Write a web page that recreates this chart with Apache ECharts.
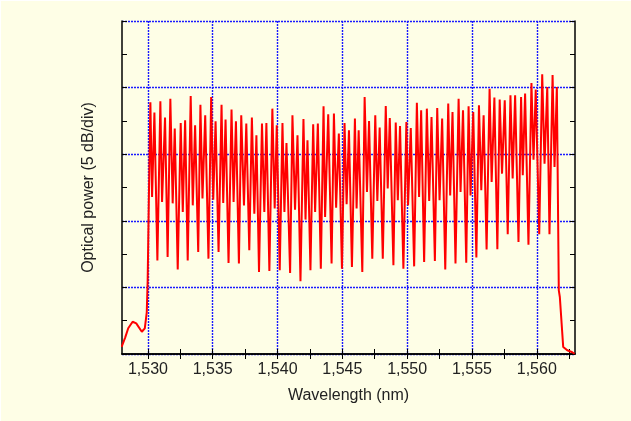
<!DOCTYPE html>
<html lang="en">
<head>
<meta charset="UTF-8">
<title>Optical spectrum</title>
<script src="https://cdn.jsdelivr.net/npm/echarts@6/dist/echarts.min.js"></script>
<style>
    body { margin: 0; background: #fff; }
    #chart { position: absolute; left: 1px; top: 1px; width: 630px; height: 420px; }
</style>
</head>
<body>
<div id="chart"></div>
<script>
// trace vertices: wavelength (nm)
var wavelength = [
    1527.97, 1528.25, 1528.48, 1528.82, 1529.10, 1529.53, 1529.76, 1529.91, 1529.98, 1530.07,
    1530.19, 1530.32, 1530.50, 1530.73, 1530.96, 1531.09, 1531.32, 1531.52,
    1531.73, 1531.91, 1532.07, 1532.30, 1532.53, 1532.69, 1532.87, 1533.07,
    1533.30, 1533.46, 1533.64, 1533.88, 1534.05, 1534.21, 1534.42, 1534.67,
    1534.88, 1535.04, 1535.22, 1535.45, 1535.68, 1535.81, 1535.99, 1536.22,
    1536.45, 1536.61, 1536.79, 1537.02, 1537.20, 1537.41, 1537.59, 1537.82,
    1538.02, 1538.21, 1538.37, 1538.57, 1538.80, 1538.98, 1539.14, 1539.37,
    1539.60, 1539.78, 1539.94, 1540.17, 1540.38, 1540.53, 1540.69, 1540.97,
    1541.15, 1541.35, 1541.54, 1541.77, 1542.00, 1542.16, 1542.31, 1542.54,
    1542.75, 1542.90, 1543.11, 1543.34, 1543.55, 1543.67, 1543.91, 1544.17,
    1544.35, 1544.52, 1544.73, 1544.97, 1545.17, 1545.33, 1545.51, 1545.74,
    1545.97, 1546.10, 1546.26, 1546.54, 1546.72, 1546.90, 1547.06, 1547.31,
    1547.54, 1547.70, 1547.88, 1548.12, 1548.35, 1548.50, 1548.66, 1548.94,
    1549.12, 1549.28, 1549.45, 1549.71, 1549.94, 1550.07, 1550.28, 1550.54,
    1550.75, 1550.92, 1551.08, 1551.31, 1551.52, 1551.70, 1551.88, 1552.14,
    1552.32, 1552.50, 1552.70, 1552.94, 1553.17, 1553.32, 1553.50, 1553.73,
    1553.97, 1554.12, 1554.31, 1554.56, 1554.74, 1554.89, 1555.10, 1555.34,
    1555.54, 1555.72, 1555.90, 1556.13, 1556.36, 1556.52, 1556.73, 1556.96,
    1557.14, 1557.32, 1557.53, 1557.76, 1557.97, 1558.14, 1558.33, 1558.59,
    1558.79, 1558.92, 1559.10, 1559.36, 1559.59, 1559.75, 1559.92, 1560.19,
    1560.42, 1560.60, 1560.81, 1560.98, 1561.22, 1561.37, 1561.55,
    1561.70, 1561.78, 1561.84, 1562.04, 1562.35, 1562.74, 1562.92
];
// trace vertices: power in dB above the bottom of the frame
var power = [
    0.53, 1.25, 1.93, 2.42, 2.30, 1.67, 1.93, 3.13, 5.50, 11.50,
    18.90, 11.79, 18.12, 7.03, 18.97, 11.41, 17.75, 7.28,
    19.17, 11.31, 16.92, 6.34, 17.34, 10.66, 17.55, 7.03,
    19.37, 11.16, 17.17, 7.66, 18.72, 11.67, 17.92, 7.16,
    19.29, 11.59, 17.47, 7.66, 18.72, 11.34, 17.60, 6.83,
    18.35, 11.41, 17.47, 6.79, 17.92, 11.16, 17.30, 7.79,
    17.75, 10.54, 16.42, 6.16, 17.30, 10.66, 17.34, 6.23,
    18.42, 10.92, 17.17, 6.28, 17.34, 10.66, 15.84, 6.08,
    17.92, 10.84, 16.42, 5.46, 17.64, 10.09, 16.04, 6.28,
    17.24, 10.66, 17.30, 6.41, 18.60, 10.29, 18.00, 6.79,
    18.05, 10.99, 16.55, 6.41, 17.34, 11.24, 16.79, 6.53,
    17.67, 10.92, 16.79, 6.16, 19.29, 12.16, 17.49, 7.16,
    17.92, 11.49, 17.00, 7.16, 18.62, 12.42, 17.72, 6.66,
    17.37, 11.54, 17.12, 6.41, 17.42, 11.16, 16.97, 6.58,
    18.87, 11.79, 18.30, 6.91, 18.42, 11.49, 17.79, 6.98,
    18.47, 11.54, 17.67, 6.34, 18.80, 11.91, 18.17, 6.79,
    19.17, 12.16, 18.30, 6.86, 18.60, 11.91, 18.17, 7.24,
    18.67, 12.29, 17.92, 7.84, 19.92, 12.91, 19.25, 7.86,
    19.10, 13.54, 19.05, 8.99, 19.42, 13.17, 19.42, 8.41,
    19.29, 13.42, 19.55, 8.21, 20.35, 14.59, 19.85, 8.99,
    21.00, 14.29, 20.05, 8.99, 20.95, 14.04, 20.05,
    4.78, 4.28, 4.18, 0.53, 0.28, 0.13, 0.02
];
var labelValues = [1530, 1535, 1540, 1545, 1550, 1555, 1560];
var tickValues = [1530, 1532.5, 1535, 1537.5, 1540, 1542.5, 1545, 1547.5, 1550, 1552.5, 1555, 1557.5, 1560, 1562.5];

var xMin = 1528, xMax = 1562.95;
var font = 'Liberation Sans, Arial, sans-serif';

function frame() { return { show: true, lineStyle: { color: '#000', width: 1.5 } }; }
function gridLine() { return { show: true, lineStyle: { color: '#1a1aff', width: 1.4, type: [2, 1] } }; }
function xTicks() { return { show: true, inside: true, length: 5, customValues: tickValues, lineStyle: { color: '#000', width: 1 } }; }
function yTicks() { return { show: true, inside: true, length: 5, lineStyle: { color: '#000', width: 1 } }; }
function yMinor() { return { show: true, splitNumber: 2, length: 5, lineStyle: { color: '#000', width: 1 } }; }

var chart = echarts.init(document.getElementById('chart'));
chart.setOption({
    animation: false,
    backgroundColor: '#fefee6',
    grid: { left: 121, right: 56, top: 20, bottom: 67 },
    xAxis: [
        {
            type: 'value', position: 'bottom', min: xMin, max: xMax,
            axisLine: frame(), axisTick: xTicks(),
            axisLabel: {
                customValues: labelValues, margin: 8, fontSize: 16, color: '#222', fontFamily: font,
                formatter: function (v) { return String(v).replace(/(\d)(\d{3})$/, '$1,$2'); }
            },
            splitLine: { show: false },
            name: 'Wavelength (nm)', nameLocation: 'middle', nameGap: 34,
            nameTextStyle: { fontSize: 16, color: '#222', fontFamily: font }
        },
        {
            type: 'value', position: 'top', min: xMin, max: xMax,
            axisLine: frame(), axisTick: xTicks(), axisLabel: { show: false }, splitLine: { show: false }
        },
        {
            // only carries the vertical grid lines
            type: 'value', position: 'bottom', min: xMin, max: xMax,
            axisLine: { show: false }, axisTick: { show: false, customValues: labelValues },
            axisLabel: { show: false }, splitLine: gridLine()
        }
    ],
    yAxis: [
        {
            type: 'value', position: 'left', min: 0, max: 25, interval: 5,
            axisLine: frame(), axisTick: yTicks(), minorTick: yMinor(),
            axisLabel: { show: false },
            splitLine: gridLine(),
            name: 'Optical power (5 dB/div)', nameLocation: 'middle', nameGap: 25,
            nameTextStyle: { fontSize: 16, color: '#222', fontFamily: font }
        },
        {
            type: 'value', position: 'right', min: 0, max: 25, interval: 5,
            axisLine: frame(), axisTick: yTicks(), minorTick: yMinor(),
            axisLabel: { show: false },
            splitLine: { show: false }
        }
    ],
    series: [{
        type: 'line',
        xAxisIndex: 0, yAxisIndex: 0,
        data: wavelength.map(function (w, i) { return [w, power[i]]; }),
        showSymbol: false,
        clip: true,
        z: 5,
        lineStyle: { color: '#ff0000', width: 2 }
    }]
});
</script>
</body>
</html>
